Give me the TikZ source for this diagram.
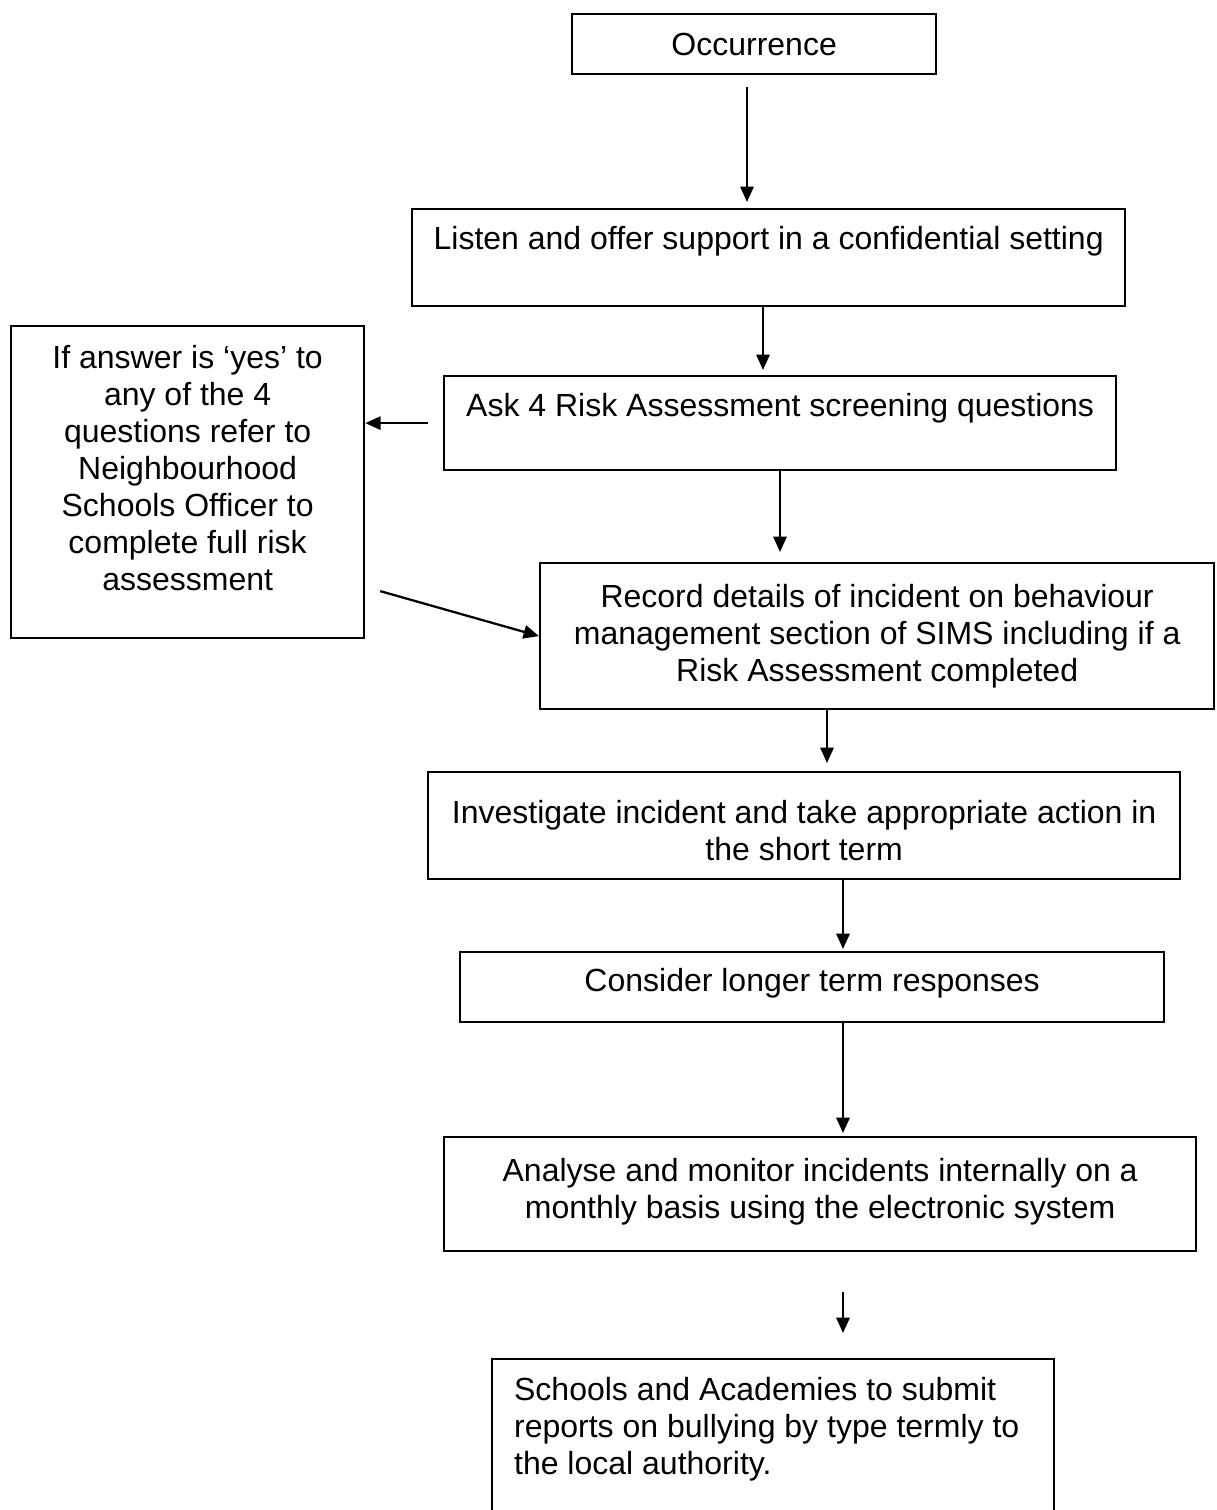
\documentclass[tikz,border=0pt]{standalone}
\usepackage{fontspec}
\setmainfont{Liberation Sans}
\usetikzlibrary{arrows.meta,calc}
\newlength\px
\setlength\px{0.375pt}
% box text: [alignment]{width}{height}{top pad}{text}, all in px
\newcommand{\boxtext}[5][\centering]{\parbox[t][#3\px][t]{#2\px}{#1\vspace*{#4\px}#5\par}}
\tikzset{
  flowbox/.style={draw, line width=0.85pt, inner sep=0pt, anchor=north west,
    font=\fontsize{12}{13.9}\selectfont},
  arr/.style={-{Triangle[length=5.8pt,width=5pt]}, line width=0.85pt},
}
\begin{document}
\begin{tikzpicture}[x=0.375pt,y=-0.375pt]
  \clip (0,0) rectangle (1216,1510);
  % boxes
  \node[flowbox] (occ) at (571,13) {\boxtext{364}{60}{19}{Occurrence}};
  \node[flowbox] (listen) at (411,208) {\boxtext{713}{97}{17}{Listen and offer support in a confidential setting}};
  \node[flowbox] (ask) at (443,375) {\boxtext{672}{94}{17}{Ask 4 Risk Assessment screening questions}};
  \node[flowbox] (refer) at (10,325) {\boxtext{353}{312}{19}{If answer is ‘yes’ to\\ any of the 4\\ questions refer to\\ Neighbourhood\\ Schools Officer to\\ complete full risk\\ assessment}};
  \node[flowbox] (record) at (539,562) {\boxtext{674}{146}{21}{Record details of incident on behaviour\\ management section of SIMS including if a\\ Risk Assessment completed}};
  \node[flowbox] (invest) at (427,771) {\boxtext{752}{107}{28}{Investigate incident and take appropriate action in\\ the short term}};
  \node[flowbox] (consider) at (459,951) {\boxtext{704}{70}{16}{Consider longer term responses}};
  \node[flowbox] (analyse) at (443,1136) {\boxtext{752}{114}{21}{Analyse and monitor incidents internally on a\\ monthly basis using the electronic system}};
  \node[flowbox] (report) at (491,1358) {\boxtext[\raggedright\leftskip=22\px]{562}{180}{18}{Schools and Academies to submit\\ reports on bullying by type termly to\\ the local authority.}};
  % arrow columns
  \coordinate (x1) at (747,0);
  \coordinate (x2) at (763,0);
  \coordinate (x4) at (780,0);
  \coordinate (x6) at (827,0);
  \coordinate (x7) at (843,0);
  % arrows
  \draw[arr, shorten <=12\px, shorten >=6\px] (occ.south -| x1) -- (listen.north -| x1);
  \draw[arr, shorten >=5\px] (listen.south -| x2) -- (ask.north -| x2);
  \draw[arr, shorten <=15\px] (ask.west) -- (ask.west -| refer.east);
  \draw[arr, shorten >=10\px] (ask.south -| x4) -- (record.north -| x4);
  \draw[arr] ($(refer.east)+(15,109)$) -- (record.west);
  \draw[arr, shorten >=8\px] (record.south -| x6) -- (invest.north -| x6);
  \draw[arr, shorten >=2\px] (invest.south -| x7) -- (consider.north -| x7);
  \draw[arr, shorten >=3\px] (consider.south -| x7) -- (analyse.north -| x7);
  \draw[arr, shorten <=40\px, shorten >=25\px] (analyse.south -| x7) -- (report.north -| x7);
\end{tikzpicture}
\end{document}
